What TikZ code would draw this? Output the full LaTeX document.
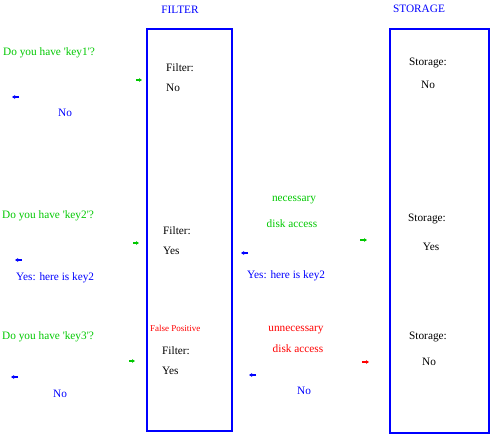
\documentclass[tikz,border=0pt]{standalone}
\usepackage{fontspec}
\setmainfont{Liberation Serif}[Ligatures=TeXOff]
\usetikzlibrary{arrows.meta}
\definecolor{qgreen}{RGB}{0,200,0}
\definecolor{qblue}{RGB}{0,0,255}
\definecolor{qred}{RGB}{255,0,0}
\begin{document}
\begin{tikzpicture}[x=1pt,y=-1pt,
  every node/.style={inner sep=0pt,font=\fontsize{11.3}{13}\selectfont},
  gtxt/.style={text=qgreen},
  btxt/.style={text=qblue},
  rtxt/.style={text=qred},
  ktxt/.style={text=black},
  column/.style={draw=qblue,line width=2.6pt},
  tiny/.style={line width=1.2pt,-{Triangle[length=3pt,width=3.5pt]}},
]
\useasboundingbox (0,0) rectangle (491,437);
% columns
\draw[column] (147,29) rectangle (232,431);
\draw[column] (390,29) rectangle (489,433);
\node[btxt] (filterT) at (180,10) {FILTER};
\node[btxt] (storageT) at (419,9) {STORAGE};

% row 1
\node[gtxt,anchor=west] (q1) at (3,53) {Do you have 'key1'?};
\node[btxt] (n1) at (65,113) {No};
\node[ktxt,anchor=west] (f1a) at (166,68) {Filter:};
\node[ktxt,anchor=west] (f1b) at (166,88) {No};
\node[ktxt] (s1a) at (428,63) {Storage:};
\node[ktxt] (s1b) at (428,85) {No};
\coordinate (g1s) at (136,80); \coordinate (g1e) at (142,80);
\coordinate (b1s) at (19,97); \coordinate (b1e) at (12,97);
\draw[tiny,qgreen] (g1s) -- (g1e);
\draw[tiny,qblue] (b1s) -- (b1e);

% row 2
\node[gtxt,anchor=west] (q2) at (2,216) {Do you have 'key2'?};
\node[btxt,anchor=west] (y2l) at (16,278) {Yes: here is key2};
\node[ktxt,anchor=west] (f2a) at (163,231) {Filter:};
\node[ktxt,anchor=west] (f2b) at (163,251) {Yes};
\node[gtxt] (nec) at (294,200) {necessary};
\node[gtxt] (dk2) at (292,224) {disk access};
\node[btxt,anchor=west] (y2r) at (247,276) {Yes: here is key2};
\node[ktxt] (s2a) at (427,219) {Storage:};
\node[ktxt] (s2b) at (431,247) {Yes};
\coordinate (g2s) at (133,243); \coordinate (g2e) at (139,243);
\coordinate (b2s) at (22,260); \coordinate (b2e) at (15,260);
\coordinate (g3s) at (360,240); \coordinate (g3e) at (367,240);
\coordinate (b3s) at (248,253); \coordinate (b3e) at (241,253);
\draw[tiny,qgreen] (g2s) -- (g2e);
\draw[tiny,qblue] (b2s) -- (b2e);
\draw[tiny,qgreen] (g3s) -- (g3e);
\draw[tiny,qblue] (b3s) -- (b3e);

% row 3
\node[gtxt,anchor=west] (q3) at (2,337) {Do you have 'key3'?};
\node[rtxt,anchor=west,font=\fontsize{9}{10}\selectfont] (fp) at (150,328) {False Positive};
\node[ktxt,anchor=west] (f3a) at (162,351) {Filter:};
\node[ktxt,anchor=west] (f3b) at (162,371) {Yes};
\node[btxt] (n3l) at (60,394) {No};
\node[rtxt] (unn) at (296,330) {unnecessary};
\node[rtxt] (dk3) at (298,349) {disk access};
\node[btxt] (n3r) at (304,391) {No};
\node[ktxt] (s3a) at (428,337) {Storage:};
\node[ktxt] (s3b) at (429,362) {No};
\coordinate (g4s) at (129,361); \coordinate (g4e) at (135,361);
\coordinate (b4s) at (18,377); \coordinate (b4e) at (11,377);
\coordinate (r1s) at (362,362); \coordinate (r1e) at (369,362);
\coordinate (b5s) at (256,375); \coordinate (b5e) at (249,375);
\draw[tiny,qgreen] (g4s) -- (g4e);
\draw[tiny,qblue] (b4s) -- (b4e);
\draw[tiny,qred] (r1s) -- (r1e);
\draw[tiny,qblue] (b5s) -- (b5e);
\end{tikzpicture}
\end{document}
